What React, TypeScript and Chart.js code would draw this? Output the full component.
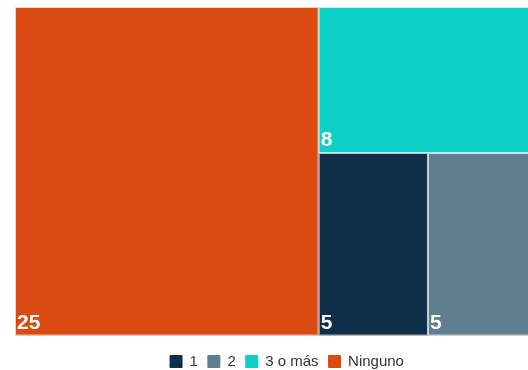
import { useEffect, useRef } from "react";
import { Chart, registerables } from "chart.js";

Chart.register(...registerables);

const categories = ["1", "2", "3 o más", "Ninguno"];
const values = [5, 5, 8, 25];
const colors = ["#0f2e47", "#5f7f90", "#0ecec8", "#db4a10"];

// extent of the treemap in x-scale units (scale spans 0..100)
const TREEMAP_X_MAX = 96;

type Item = { i: number; area: number };
type Rect = Item & { x: number; y: number; w: number; h: number };

function worst(row: number[], side: number): number {
  const s = row.reduce((a, b) => a + b, 0);
  const mx = Math.max(...row);
  const mn = Math.min(...row);
  return Math.max((side * side * mx) / (s * s), (s * s) / (side * side * mn));
}

function squarify(items: Item[], x: number, y: number, w: number, h: number): Rect[] {
  const out: Rect[] = [];
  let remaining = items.slice();
  while (remaining.length) {
    const side = Math.min(w, h);
    let row = [remaining[0]];
    let k = 1;
    while (k < remaining.length) {
      const next = [...row, remaining[k]];
      if (worst(next.map((a) => a.area), side) <= worst(row.map((a) => a.area), side)) {
        row = next;
        k++;
      } else break;
    }
    remaining = remaining.slice(k);
    const rowSum = row.reduce((a, b) => a + b.area, 0);
    if (w >= h) {
      const colW = rowSum / h;
      let cy = y;
      for (const r of row) {
        const rh = r.area / colW;
        out.push({ ...r, x, y: cy, w: colW, h: rh });
        cy += rh;
      }
      x += colW;
      w -= colW;
    } else {
      const rowH = rowSum / w;
      let cx = x;
      for (const r of row) {
        const rw = r.area / rowH;
        out.push({ ...r, x: cx, y, w: rw, h: rowH });
        cx += rw;
      }
      y += rowH;
      h -= rowH;
    }
  }
  return out;
}

const treemapPlugin = {
  id: "treemapCells",
  afterDatasetsDraw(chart: any) {
    const xs = chart.scales.x;
    const ys = chart.scales.y;
    const left = xs.getPixelForValue(0);
    const right = xs.getPixelForValue(TREEMAP_X_MAX);
    const top = ys.getPixelForValue(100);
    const bottom = ys.getPixelForValue(0);
    const W = right - left;
    const H = bottom - top;
    const total = values.reduce((a, b) => a + b, 0);
    const items: Item[] = values
      .map((v, i) => ({ i, area: (v / total) * W * H }))
      .sort((a, b) => b.area - a.area);
    const rects = squarify(items, left, top, W, H);
    const ctx = chart.ctx as CanvasRenderingContext2D;
    ctx.save();
    for (const r of rects) {
      ctx.fillStyle = colors[r.i];
      ctx.fillRect(r.x, r.y, r.w, r.h);
      ctx.strokeStyle = "rgba(255,255,255,0.75)";
      ctx.lineWidth = 1;
      ctx.strokeRect(r.x + 0.5, r.y + 0.5, r.w - 1, r.h - 1);
    }
    ctx.fillStyle = "#ffffff";
    ctx.font = "bold 21px 'Liberation Sans', Arial, sans-serif";
    ctx.textAlign = "left";
    ctx.textBaseline = "alphabetic";
    for (const r of rects) {
      ctx.fillText(String(values[r.i]), r.x + 2, r.y + r.h - 7);
    }
    ctx.restore();
  },
};

export default function App() {
  const ref = useRef<HTMLCanvasElement | null>(null);
  useEffect(() => {
    if (!ref.current) return;
    const chart = new Chart(ref.current, {
      type: "scatter",
      data: {
        datasets: categories.map((c, i) => ({
          label: c,
          data: [],
          backgroundColor: colors[i],
          borderColor: colors[i],
          borderWidth: 1,
        })),
      },
      options: {
        animation: false,
        responsive: true,
        maintainAspectRatio: false,
        layout: { padding: { left: 15, top: 7, right: 15, bottom: 0 } },
        scales: {
          x: { type: "linear", min: 0, max: 100, display: false },
          y: { type: "linear", min: 0, max: 100, display: false },
        },
        plugins: {
          legend: {
            position: "bottom",
            onClick: () => {},
            title: { display: true, text: "", padding: 0, font: { size: 7 } },
            labels: {
              boxWidth: 12,
              boxHeight: 12,
              padding: 10,
              color: "#333333",
              font: { size: 15, family: "'Liberation Sans', Arial, sans-serif" },
            },
          },
          tooltip: { enabled: false },
        },
      },
      plugins: [treemapPlugin],
    });
    return () => chart.destroy();
  }, []);
  return (
    <div style={{ position: "fixed", left: 0, top: 0, width: 528, height: 370, overflow: "hidden", background: "#fff" }}>
      <div style={{ position: "relative", width: 574, height: 379 }}>
        <canvas ref={ref} />
      </div>
    </div>
  );
}
